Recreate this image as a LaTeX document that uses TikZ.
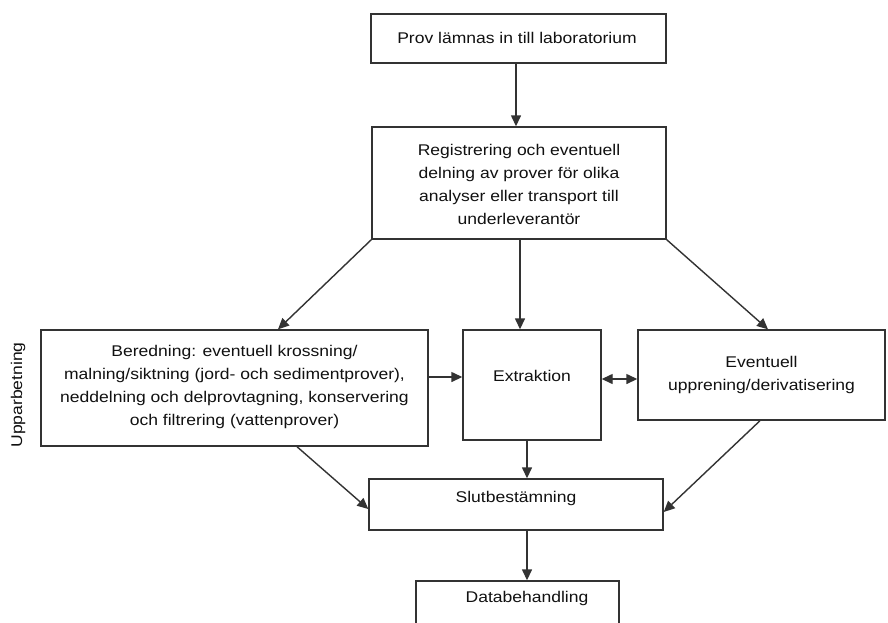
\documentclass[tikz,border=0pt]{standalone}
\usepackage{fontspec}
\setmainfont{Liberation Sans}[FakeStretch=1.13]
\usetikzlibrary{arrows.meta}
\definecolor{linegray}{HTML}{333333}
\definecolor{textgray}{HTML}{111111}
\tikzset{
  box/.style={draw=linegray, line width=1.4pt, rectangle, inner sep=0pt},
  txt/.style={text=textgray, align=center, inner sep=0pt,
    font=\fontsize{15.5pt}{23pt}\selectfont},
  tip/.style={},
  arr/.style={draw=linegray, line width=1.4pt, -{Triangle[length=11pt,width=10pt]}},
  dblarr/.style={draw=linegray, line width=1.4pt,
    {Triangle[length=11pt,width=10pt]}-{Triangle[length=11pt,width=10pt]}}
}
\begin{document}
\begin{tikzpicture}[x=1pt, y=-1pt]
\clip (0,0) rectangle (888,622);
\fill[white] (0,0) rectangle (888,622);

% boxes
\node[box, minimum width=295pt, minimum height=49pt]  (prov) at (518.5,38.5) {};
\node[box, minimum width=294pt, minimum height=112pt] (reg)  at (519,183) {};
\node[box, minimum width=387pt, minimum height=116pt] (ber)  at (234.5,388) {};
\node[box, minimum width=138pt, minimum height=110pt] (ext)  at (532,385) {};
\node[box, minimum width=247pt, minimum height=90pt]  (eve)  at (761.5,375) {};
\node[box, minimum width=294pt, minimum height=51pt]  (slut) at (516,504.5) {};
\node[box, minimum width=203pt, minimum height=60pt]  (data) at (517.5,611) {};

% texts
\node[txt] (provT) at (517,38) {Prov lämnas in till laboratorium};
\node[txt] (regT)  at (519,184) {Registrering och eventuell\\delning av prover för olika\\analyser eller transport till\\underleverantör};
\node[txt] (berT)  at (234.5,387) {Beredning: eventuell krossning/\\malning/siktning (jord- och sedimentprover),\\neddelning och delprovtagning, konservering\\och filtrering (vattenprover)};
\node[txt] (extT)  at (532,376) {Extraktion};
\node[txt] (eveT)  at (761.5,375) {Eventuell\\upprening/derivatisering};
\node[txt] (slutT) at (516,498) {Slutbestämning};
\node[txt] (dataT) at (527,598) {Databehandling};
\node[txt, rotate=90] (upp) at (18,395) {Upparbetning};

% connectors
\draw[arr] ([xshift=-2.5pt]prov.south) -- ([xshift=-3pt]reg.north);
\draw[arr] (reg.south west) -- ([xshift=43.5pt]ber.north);
\draw[arr] ([xshift=1pt]reg.south) -- ([xshift=-12pt]ext.north);
\draw[arr] (reg.south east) -- ([xshift=6.5pt]eve.north);
\draw[arr] ([yshift=11pt]ber.east) -- ([yshift=8pt]ext.west);
\draw[dblarr] ([yshift=6pt]ext.east) -- ([yshift=-4pt]eve.west);
\draw[arr] ([xshift=62.5pt]ber.south) -- ([yshift=-4.5pt]slut.west);
\draw[arr] ([xshift=-1.5pt]eve.south) -- ([yshift=-7.5pt]slut.east);
\draw[arr] ([xshift=-5pt]ext.south) -- ([xshift=11pt]slut.north);
\draw[arr] ([xshift=11pt]slut.south) -- ([xshift=9.5pt]data.north);
\end{tikzpicture}
\end{document}
